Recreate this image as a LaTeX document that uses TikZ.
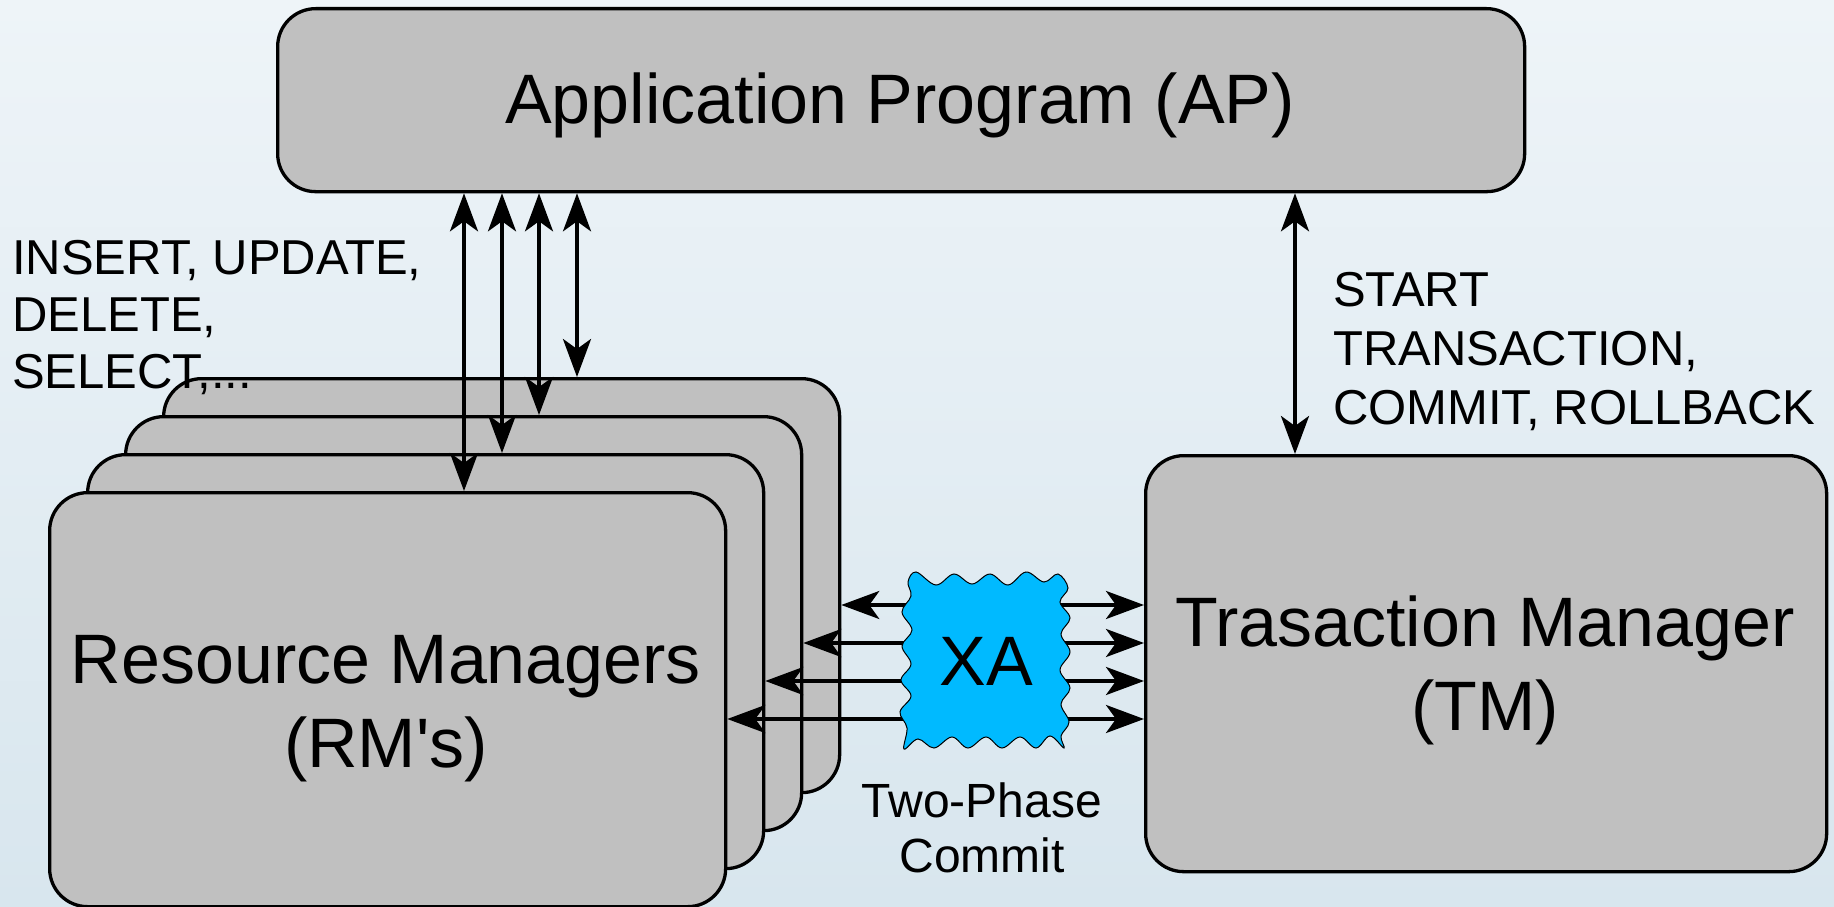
\documentclass[tikz,border=0pt]{standalone}
\usepackage{fontspec}
\setmainfont{Liberation Sans}[Ligatures=TeXOff]
\usetikzlibrary{arrows.meta,calc}
\definecolor{bgtop}{RGB}{238,244,248}
\definecolor{bgbot}{RGB}{216,230,238}
\definecolor{boxgray}{RGB}{192,192,192}
\definecolor{xablue}{RGB}{0,186,255}
\begin{document}
\begin{tikzpicture}[x=1pt,y=-1pt,
  box/.style={draw=black, line width=3.3pt, fill=boxgray, rounded corners=38pt, inner sep=0pt, anchor=north west},
  big/.style={font=\fontsize{70}{84}\selectfont, align=center, inner sep=0pt},
  small/.style={font=\fontsize{49}{57}\selectfont, align=left, inner sep=0pt},
  dbl/.style={line width=3.8pt, {Stealth[length=38pt,width=28pt,inset=10pt]}-{Stealth[length=38pt,width=28pt,inset=10pt]}},
  xacloud/.style={draw=black, line width=1pt, fill=xablue},
]
\shade[top color=bgtop, bottom color=bgbot] (0,0) rectangle (1834,907);
\useasboundingbox (0,0) rectangle (1834,907);

% boxes
\node[box, minimum width=1247pt, minimum height=183pt] (ap) at (276,7) {};
\node[box, minimum width=676pt, minimum height=414pt] (rm4) at (162,377) {};
\node[box, minimum width=676pt, minimum height=414pt] (rm3) at (124,415) {};
\node[box, minimum width=676pt, minimum height=414pt] (rm2) at (86,453) {};
\node[box, minimum width=676pt, minimum height=414pt] (rm1) at (48,491) {};
\node[box, minimum width=681pt, minimum height=416pt] (tm) at (1144,454) {};

% vertical connectors
\coordinate (v1) at (464,0);
\coordinate (v2) at (502,0);
\coordinate (v3) at (539,0);
\coordinate (v4) at (577,0);
\coordinate (v5) at (1295,0);
\draw[dbl] (ap.south -| v1) -- (rm1.north -| v1);
\draw[dbl] (ap.south -| v2) -- (rm2.north -| v2);
\draw[dbl] (ap.south -| v3) -- (rm3.north -| v3);
\draw[dbl] (ap.south -| v4) -- (rm4.north -| v4);
\draw[dbl] (ap.south -| v5) -- (tm.north -| v5);

% horizontal connectors
\coordinate (h1) at (0,605);
\coordinate (h2) at (0,643);
\coordinate (h3) at (0,681);
\coordinate (h4) at (0,719);
\draw[dbl] (rm4.east |- h1) -- (tm.west |- h1);
\draw[dbl] (rm3.east |- h2) -- (tm.west |- h2);
\draw[dbl] (rm2.east |- h3) -- (tm.west |- h3);
\draw[dbl] (rm1.east |- h4) -- (tm.west |- h4);

% XA cloud
\draw[xacloud] plot[smooth cycle, tension=0.6] coordinates {
  (908,582) (916,572) (936,585) (954,574) (972,584) (990,574) (1008,585) (1026,572) (1044,582) (1058,574) (1068,588)
  (1060,602) (1070,618) (1061,634) (1070,652) (1060,670) (1070,688) (1061,704) (1069,722) (1061,736) (1064,748)
  (1050,736) (1036,748) (1020,737) (1002,748) (986,737) (968,748) (952,737) (934,748) (918,739) (904,749)
  (907,728) (900,712) (911,696) (901,680) (911,664) (902,646) (912,630) (902,612) (911,596)};
\node[big, anchor=base] (xa) at (986,685) {XA};

% texts
\node[big, anchor=base] (aptext) at (900,123) {Application Program (AP)};
\node[big, anchor=base] (rmtext) at (386,767) {Resource Managers\\(RM's)};
\node[big, anchor=base] (tmtext) at (1485,730) {Trasaction Manager\\(TM)};
\node[small, anchor=base west] (sql) at (12,388) {INSERT, UPDATE,\\DELETE,\\SELECT,...};
\node[small, font=\fontsize{49}{59}\selectfont, anchor=base west] (txcmd) at (1333,424) {START\\TRANSACTION,\\COMMIT, ROLLBACK};
\node[small, font=\fontsize{48}{55}\selectfont, align=center, anchor=base] (tpc) at (982,872) {Two-Phase\\Commit};
\end{tikzpicture}
\end{document}
